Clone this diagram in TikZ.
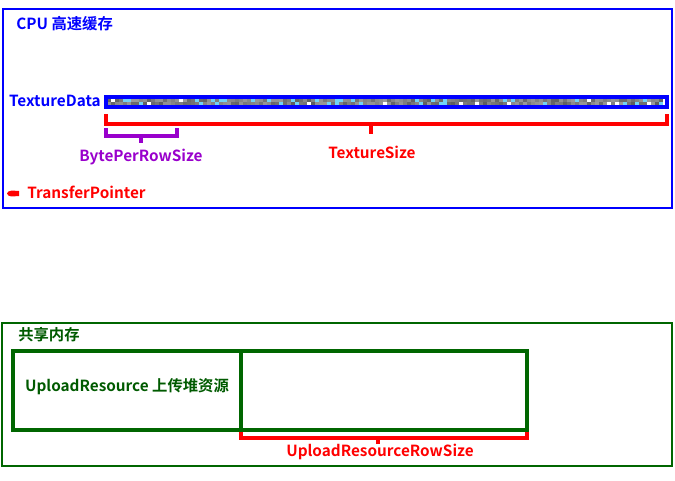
\documentclass[tikz,border=0pt]{standalone}
\usepackage{fontspec}
\setmainfont{Noto Sans CJK SC}[BoldFont=Noto Sans CJK SC Bold]
\definecolor{cpublue}{RGB}{0,0,255}
\definecolor{sred}{RGB}{255,0,0}
\definecolor{spurple}{RGB}{153,0,204}
\definecolor{sgreen}{RGB}{0,102,0}
\definecolor{tgreen}{RGB}{0,90,0}
\tikzset{
  lbl/.style={font=\bfseries\fontsize{11.5}{13}\selectfont, inner sep=0pt},
  frame/.style={line width=0.9pt},
  brace/.style={line width=2.7pt},
  ubox/.style={draw=sgreen, line width=2.4pt},
}
\begin{document}
\begin{tikzpicture}[x=0.75pt,y=-0.75pt]
\useasboundingbox (0,0) rectangle (675,480);
% CPU cache frame
\coordinate (cpuA) at (3,9);
\coordinate (cpuB) at (672,208);
\draw[frame, cpublue] (cpuA) rectangle (cpuB);
\node[lbl, text=cpublue, anchor=west] (cputitle) at (16,24) {CPU 高速缓存};
\node[lbl, text=cpublue, anchor=east] (texdata) at (101,101) {TextureData};
% texture bar
\coordinate (barA) at (106,97);
\coordinate (barB) at (667,107);
\pgfmathsetseed{11}
\fill[black!50] (barA) rectangle (barB);
\foreach \xx in {107,111,...,663}{
  \foreach \yy in {99,102}{
    \pgfmathrandominteger{\r}{0}{29}
    \ifnum\r<24
      \pgfmathtruncatemacro{\g}{40+\r}
      \fill[black!\g!white] (\xx,\yy) rectangle ++(4,3);
    \else\ifnum\r<28
      \fill[cyan!55!white] (\xx,\yy) rectangle ++(4,3);
    \else
      \fill[white] (\xx,\yy) rectangle ++(4,3);
    \fi\fi
  }
}
\draw[cpublue, line width=2.3pt] (barA) rectangle (barB);
% TextureSize bracket
\coordinate (ts1) at (106,114);
\coordinate (ts2) at (667,114);
\coordinate (tsm) at (371,124);
\coordinate (tst) at (371,134);
\draw[sred, brace] (ts1) |- (ts2 |- tsm) -- (ts2);
\draw[sred, brace] (tsm) -- (tst);
\node[lbl, text=sred] (tslbl) at (372,152) {TextureSize};
% BytePerRowSize bracket
\coordinate (bp1) at (106,128);
\coordinate (bp2) at (177,128);
\coordinate (bpm) at (141,136);
\coordinate (bpt) at (141,143);
\draw[spurple, brace] (bp1) |- (bp2 |- bpm) -- (bp2);
\draw[spurple, brace] (bpm) -- (bpt);
\node[lbl, text=spurple] (bplbl) at (141,157) {BytePerRowSize};
% TransferPointer
\fill[sred] (7,193.5) .. controls (8,190) and (12,190.5) .. (19,191) -- (19,196) .. controls (12,196.5) and (8,197) .. (7,193.5) -- cycle;
\node[lbl, text=sred, anchor=west] (tplbl) at (27,192) {TransferPointer};
% shared memory
\coordinate (shA) at (2,323);
\coordinate (shB) at (672,466);
\draw[frame, sgreen] (shA) rectangle (shB);
\node[lbl, text=tgreen, anchor=west] (shtitle) at (18,335) {共享内存};
\coordinate (u1) at (13,351);
\coordinate (u2) at (241,430);
\coordinate (u3) at (241,351);
\coordinate (u4) at (527,430);
\draw[ubox] (u1) rectangle (u2);
\draw[ubox] (u3) rectangle (u4);
\node[lbl, text=tgreen] (ulbl) at (127,387) {UploadResource 上传堆资源};
% UploadResourceRowSize bracket
\coordinate (ur1) at (241,432);
\coordinate (ur2) at (527,432);
\coordinate (urm) at (378,438);
\coordinate (urt) at (378,444);
\draw[sred, brace] (ur1) |- (ur2 |- urm) -- (ur2);
\draw[sred, brace] (urm) -- (urt);
\node[lbl, text=sred] (urlbl) at (380,452) {UploadResourceRowSize};
\end{tikzpicture}
\end{document}
